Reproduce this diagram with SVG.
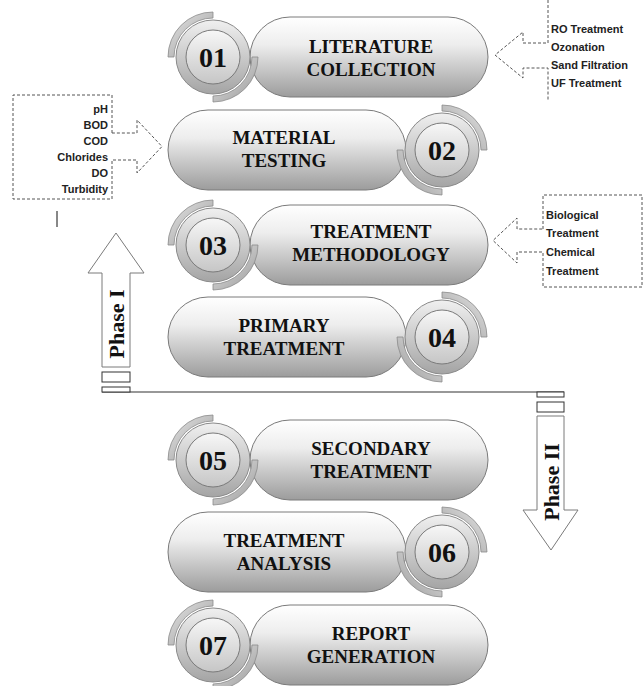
<svg xmlns="http://www.w3.org/2000/svg" xmlns:xlink="http://www.w3.org/1999/xlink" width="643" height="686" viewBox="0 0 643 686">
<style>
.pill{fill:url(#gPill);stroke:#7a7a7a;stroke-width:1}
.lbl{font-family:"Liberation Serif",serif;font-weight:bold;font-size:19px;fill:#111;text-anchor:middle}
.num{font-family:"Liberation Serif",serif;font-weight:bold;font-size:28px;fill:#111;text-anchor:middle}
.note{font-family:"Liberation Sans",Arial,sans-serif;font-weight:bold;font-size:11px;fill:#222}
.dash{fill:none;stroke:#555;stroke-width:1;stroke-dasharray:3,2}
.phase{fill:#fff;stroke:#7a7a7a;stroke-width:1}
.ph{font-family:"Liberation Serif",serif;font-weight:bold;font-size:22px;fill:#111;text-anchor:middle;dominant-baseline:central}
.bar{fill:#fff;stroke:#333;stroke-width:1}
</style>
<defs>
<linearGradient id="gPill" x1="0" y1="0" x2="0" y2="1">
<stop offset="0" stop-color="#ffffff"/><stop offset="0.35" stop-color="#ededed"/><stop offset="1" stop-color="#9c9c9c"/>
</linearGradient>
<linearGradient id="gArc" x1="0" y1="0" x2="1" y2="1">
<stop offset="0" stop-color="#e6e6e6"/><stop offset="1" stop-color="#9a9a9a"/>
</linearGradient>
<linearGradient id="gRing" x1="0" y1="0" x2="0" y2="1">
<stop offset="0" stop-color="#f0f0f0"/><stop offset="1" stop-color="#a4a4a4"/>
</linearGradient>
<linearGradient id="gIn" x1="0" y1="0" x2="0" y2="1">
<stop offset="0" stop-color="#f7f7f7"/><stop offset="1" stop-color="#c6c6c6"/>
</linearGradient>
<g id="badge">
<path d="M0,-45 A45,45 0 0 0 -45,0 L-39,0 A39,39 0 0 1 0,-39 Z" fill="url(#gArc)" stroke="#8c8c8c" stroke-width="0.8"/>
<path d="M45,0 A45,45 0 0 1 0,45 L0,39 A39,39 0 0 0 39,0 Z" fill="url(#gArc)" stroke="#8c8c8c" stroke-width="0.8"/>
<circle r="37" fill="url(#gRing)" stroke="#8a8a8a" stroke-width="1"/>
<circle r="27" fill="url(#gIn)" stroke="#7a7a7a" stroke-width="1"/>
</g>
</defs>

<g id="connectors">
<path class="dash" d="M548,0 V43 H523 V32 L495,55 L523,78 V68 H548 V100"/>
<path class="dash" d="M112,133 V95 H13 V199 H112 V160 H137 V173 L162,146.5 L137,120 V133 Z"/>
<path class="dash" d="M543,229 V195 H642 V287 H543 V252 H517 V263 L493,240.5 L517,218 V229 Z"/>
<line x1="57" y1="211" x2="57" y2="227" stroke="#111" stroke-width="1"/>
<line x1="102" y1="392" x2="564" y2="392" stroke="#333" stroke-width="1.2"/>
<rect class="bar" x="102" y="372" width="28" height="10"/>
<rect class="bar" x="102" y="387" width="28" height="5"/>
<rect class="bar" x="537" y="392" width="27" height="5"/>
<rect class="bar" x="537" y="402" width="27" height="10"/>
</g>

<g id="notes">
<text class="note" x="551" y="33">RO Treatment</text>
<text class="note" x="551" y="51">Ozonation</text>
<text class="note" x="551" y="69">Sand Filtration</text>
<text class="note" x="551" y="87">UF Treatment</text>
<g text-anchor="end">
<text class="note" x="108" y="113">pH</text>
<text class="note" x="108" y="129">BOD</text>
<text class="note" x="108" y="145">COD</text>
<text class="note" x="108" y="161">Chlorides</text>
<text class="note" x="108" y="177">DO</text>
<text class="note" x="108" y="193">Turbidity</text>
</g>
<text class="note" x="546" y="219">Biological</text>
<text class="note" x="546" y="237">Treatment</text>
<text class="note" x="546" y="256">Chemical</text>
<text class="note" x="546" y="275">Treatment</text>
</g>

<g id="phase1">
<polygon class="phase" points="116,233 144,273 130,273 130,367 102,367 102,273 88,273"/>
<text class="ph" transform="translate(116,324) rotate(-90)">Phase I</text>
</g>
<g id="phase2">
<polygon class="phase" points="537,416 564,416 564,510 578,510 551,550 523,510 537,510"/>
<text class="ph" transform="translate(551,482) rotate(-90)">Phase II</text>
</g>

<g id="node01">
<rect class="pill" x="250" y="17" width="238" height="80" rx="40"/>
<use xlink:href="#badge" transform="translate(213,57)"/>
<text class="num" x="213" y="67">01</text>
<text class="lbl" x="371" y="53">LITERATURE</text>
<text class="lbl" x="371" y="76">COLLECTION</text>
</g>
<g id="node02">
<rect class="pill" x="168" y="110" width="238" height="80" rx="40"/>
<use xlink:href="#badge" transform="translate(442,150) scale(-1,1)"/>
<text class="num" x="442" y="160">02</text>
<text class="lbl" x="284" y="144">MATERIAL</text>
<text class="lbl" x="284" y="167">TESTING</text>
</g>
<g id="node03">
<rect class="pill" x="250" y="205" width="238" height="80" rx="40"/>
<use xlink:href="#badge" transform="translate(213,245)"/>
<text class="num" x="213" y="255">03</text>
<text class="lbl" x="371" y="238">TREATMENT</text>
<text class="lbl" x="371" y="261">METHODOLOGY</text>
</g>
<g id="node04">
<rect class="pill" x="168" y="297" width="238" height="80" rx="40"/>
<use xlink:href="#badge" transform="translate(442,337) scale(-1,1)"/>
<text class="num" x="442" y="347">04</text>
<text class="lbl" x="284" y="332">PRIMARY</text>
<text class="lbl" x="284" y="355">TREATMENT</text>
</g>
<g id="node05">
<rect class="pill" x="250" y="420" width="238" height="80" rx="40"/>
<use xlink:href="#badge" transform="translate(213,460)"/>
<text class="num" x="213" y="470">05</text>
<text class="lbl" x="371" y="455">SECONDARY</text>
<text class="lbl" x="371" y="478">TREATMENT</text>
</g>
<g id="node06">
<rect class="pill" x="168" y="512" width="238" height="80" rx="40"/>
<use xlink:href="#badge" transform="translate(442,552) scale(-1,1)"/>
<text class="num" x="442" y="562">06</text>
<text class="lbl" x="284" y="547">TREATMENT</text>
<text class="lbl" x="284" y="570">ANALYSIS</text>
</g>
<g id="node07">
<rect class="pill" x="250" y="605" width="238" height="80" rx="40"/>
<use xlink:href="#badge" transform="translate(213,645)"/>
<text class="num" x="213" y="655">07</text>
<text class="lbl" x="371" y="640">REPORT</text>
<text class="lbl" x="371" y="663">GENERATION</text>
</g>
</svg>
